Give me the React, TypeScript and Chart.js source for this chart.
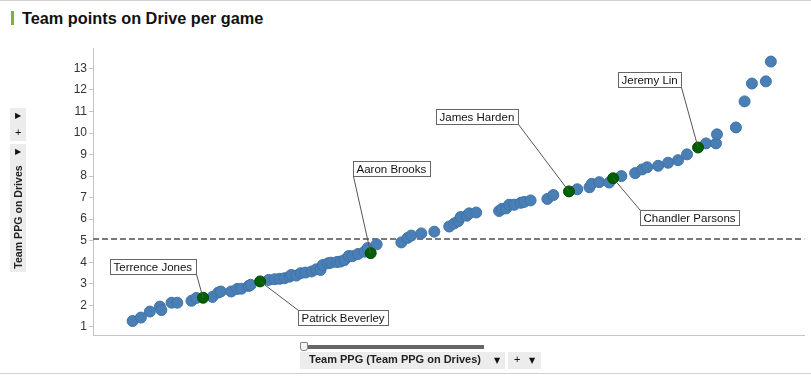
import React, { useEffect, useRef } from "react";
import { Chart, registerables } from "chart.js";

Chart.register(...registerables);

// ---- Data ----
const titleText = "Team points on Drive per game";
const yAxisTitle = "Team PPG on Drives";
const xAxisTitle = "Team PPG (Team PPG on Drives)";
const yTicks = [1, 2, 3, 4, 5, 6, 7, 8, 9, 10, 11, 12, 13];
const referenceLine = [5.08];

const blueX = [5.57, 6.73, 7.99, 9.4, 9.61, 11.04, 11.85, 13.84, 14.52, 16.79, 17.6, 17.95, 19.42, 20.27, 20.86, 21.88, 22.16, 24.68, 25.53, 26.23, 26.93, 27.63, 27.87, 28.57, 29.17, 29.87, 30.72, 31.37, 31.98, 32.3, 33.03, 33.45, 34.29, 34.78, 35.34, 35.95, 36.47, 37.24, 38.15, 38.62, 39.87, 43.34, 44.22, 44.74, 46.14, 47.97, 50.07, 50.77, 51.33, 51.68, 52.52, 52.88, 53.86, 57.08, 57.5, 58.06, 58.49, 59.19, 60.13, 60.59, 61.5, 63.86, 64.7, 68.06, 69.78, 70.08, 71.15, 72.55, 74.26, 76.2, 77.18, 77.88, 79.43, 80.83, 82.23, 83.49, 86.16, 87.56, 87.7, 90.36, 91.58, 92.61, 94.57, 95.27];
const blueY = [1.27, 1.43, 1.71, 1.94, 1.78, 2.12, 2.12, 2.21, 2.34, 2.39, 2.59, 2.64, 2.64, 2.76, 2.77, 2.9, 2.95, 3.18, 3.21, 3.23, 3.26, 3.33, 3.41, 3.38, 3.49, 3.52, 3.57, 3.67, 3.64, 3.87, 3.95, 3.98, 4.01, 4.03, 4.1, 4.29, 4.28, 4.38, 4.49, 4.66, 4.83, 4.92, 5.13, 5.24, 5.34, 5.42, 5.66, 5.8, 5.91, 6.1, 6.16, 6.27, 6.31, 6.38, 6.48, 6.5, 6.67, 6.67, 6.76, 6.8, 6.87, 6.94, 7.12, 7.39, 7.48, 7.64, 7.72, 7.7, 8.0, 8.14, 8.31, 8.41, 8.48, 8.62, 8.74, 9.01, 9.52, 9.52, 9.94, 10.26, 11.47, 12.3, 12.4, 13.32];

const highlightNames = ["Terrence Jones", "Patrick Beverley", "Aaron Brooks", "James Harden", "Chandler Parsons", "Jeremy Lin"];
const highlightX = [15.47, 23.49, 39.03, 66.9, 73.11, 85.04];
const highlightY = [2.35, 3.11, 4.42, 7.29, 7.9, 9.33];

// ---- Styles (label placement relative to point, in px) ----
const labelPlacement: { dx: number; dy: number; anchor: string }[] = [
  { dx: -93, dy: -38.5, anchor: "br" },
  { dx: 38, dy: 28.5, anchor: "tl" },
  { dx: -18, dy: -92, anchor: "bl" },
  { dx: -133, dy: -82, anchor: "br" },
  { dx: 27, dy: 32, anchor: "tl" },
  { dx: -80, dy: -75, anchor: "br" },
];

const labelPlugin = {
  id: "playerLabels",
  afterDatasetsDraw(chart: any) {
    const { ctx, scales } = chart;
    ctx.save();
    ctx.font = '11.5px "Liberation Sans", Arial, sans-serif';
    highlightNames.forEach((name, i) => {
      const px = scales.x.getPixelForValue(highlightX[i]);
      const py = scales.y.getPixelForValue(highlightY[i]);
      const p = labelPlacement[i];
      const w = Math.round(ctx.measureText(name).width + 7);
      const h = 15;
      const bx = Math.round(px + p.dx) + 0.5;
      const by = Math.round(py + p.dy) + 0.5;
      const ax = p.anchor.includes("r") ? bx + w : bx;
      const ay = p.anchor.includes("b") ? by + h : by;
      ctx.strokeStyle = "#555";
      ctx.lineWidth = 1;
      ctx.beginPath();
      ctx.moveTo(ax, ay);
      ctx.lineTo(px, py);
      ctx.stroke();
      ctx.fillStyle = "#fff";
      ctx.fillRect(bx, by, w, h);
      ctx.strokeStyle = "#666";
      ctx.strokeRect(bx, by, w, h);
      ctx.fillStyle = "#111";
      ctx.textBaseline = "middle";
      ctx.textAlign = "left";
      ctx.fillText(name, bx + 3, by + h / 2 + 0.5);
    });
    ctx.restore();
  },
};

const grayBox: React.CSSProperties = { position: "absolute", background: "#ececec" };
const tri: React.CSSProperties = { position: "absolute", fontSize: 8, color: "#111", fontFamily: "DejaVu Sans, sans-serif", lineHeight: "8px" };

export default function App() {
  const canvasRef = useRef<HTMLCanvasElement | null>(null);

  useEffect(() => {
    document.body.style.margin = "0";
    const canvas = canvasRef.current;
    if (!canvas) return;
    const chart = new Chart(canvas, {
      type: "scatter",
      data: {
        datasets: [
          {
            type: "line",
            data: [
              { x: 0, y: referenceLine[0] },
              { x: 100, y: referenceLine[0] },
            ],
            borderColor: "#7a7a7a",
            borderWidth: 2,
            borderDash: [6, 3],
            pointRadius: 0,
            order: 3,
          } as any,
          {
            data: blueX.map((x, i) => ({ x, y: blueY[i] })),
            backgroundColor: "#4a7fb5",
            borderColor: "#3f73a8",
            borderWidth: 1,
            pointRadius: 5.5,
            order: 2,
          },
          {
            data: highlightX.map((x, i) => ({ x, y: highlightY[i] })),
            backgroundColor: "#006000",
            borderColor: "#004d00",
            borderWidth: 1,
            pointRadius: 5.5,
            order: 1,
          },
        ],
      },
      options: {
        animation: false,
        responsive: false,
        maintainAspectRatio: false,
        layout: { padding: { left: 0, right: 5, top: 48, bottom: 41 } },
        plugins: { legend: { display: false }, tooltip: { enabled: false } },
        scales: {
          x: {
            type: "linear",
            min: 0,
            max: 100,
            grid: { display: false },
            border: { display: true, color: "#c4c4c4" },
            ticks: { display: false },
            afterFit: (s: any) => {
              s.height = 0;
            },
          },
          y: {
            type: "linear",
            min: 0.62,
            max: 13.95,
            afterBuildTicks: (s: any) => {
              s.ticks = yTicks.map((v) => ({ value: v }));
            },
            afterFit: (s: any) => {
              s.width = 93;
            },
            grid: { display: true, drawOnChartArea: false, drawTicks: true, tickLength: 4, color: "#c4c4c4" },
            border: { display: true, color: "#c4c4c4" },
            ticks: {
              padding: 2,
              color: "#333",
              font: { family: '"Liberation Sans", Arial, sans-serif', size: 12 },
            },
          },
        },
      },
      plugins: [labelPlugin],
    });
    return () => chart.destroy();
  }, []);

  return (
    <div style={{ position: "relative", width: 811, height: 376, overflow: "hidden", background: "#fff", fontFamily: '"Liberation Sans", Arial, sans-serif' }}>
      <div style={{ position: "absolute", left: 0, top: 0, width: 811, height: 1, background: "#d0d0d0" }} />
      <div style={{ position: "absolute", left: 0, top: 373, width: 811, height: 1, background: "#d0d0d0" }} />
      <div style={{ position: "absolute", left: 11, top: 11, width: 3, height: 14, background: "#80b03a" }} />
      <div style={{ position: "absolute", left: 22, top: 8, fontSize: 16.3, fontWeight: "bold", color: "#111", whiteSpace: "nowrap", lineHeight: "20px" }}>{titleText}</div>
      <canvas ref={canvasRef} width={811} height={376} style={{ position: "absolute", left: 0, top: 0, width: 811, height: 376 }} />
      {/* left axis controls */}
      <div style={{ ...grayBox, left: 10, top: 108, width: 16, height: 33 }} />
      <div style={{ ...tri, left: 15, top: 112 }}>▶</div>
      <div style={{ position: "absolute", left: 15, top: 126, fontSize: 11, color: "#111" }}>+</div>
      <div style={{ ...grayBox, left: 10, top: 144, width: 16, height: 128 }} />
      <div style={{ ...tri, left: 15, top: 148 }}>▶</div>
      <div
        style={{
          position: "absolute",
          left: 18,
          top: 217,
          transform: "translate(-50%, -50%) rotate(-90deg)",
          fontSize: 10.6,
          fontWeight: "bold",
          color: "#222",
          whiteSpace: "nowrap",
        }}
      >
        {yAxisTitle}
      </div>
      {/* bottom axis controls */}
      <div style={{ position: "absolute", left: 303, top: 345, width: 181, height: 4, background: "#666" }} />
      <div style={{ position: "absolute", left: 300, top: 342, width: 6, height: 7, background: "#f4f4f4", border: "1px solid #888", borderRadius: "1px 1px 3px 3px" }} />
      <div style={{ ...grayBox, left: 300, top: 352, width: 205, height: 17 }} />
      <div style={{ position: "absolute", left: 309, top: 353, fontSize: 11, fontWeight: "bold", color: "#222", whiteSpace: "nowrap" }}>{xAxisTitle}</div>
      <div style={{ ...tri, left: 494, top: 357 }}>▼</div>
      <div style={{ ...grayBox, left: 508, top: 352, width: 33, height: 17 }} />
      <div style={{ position: "absolute", left: 514, top: 353, fontSize: 11, color: "#111" }}>+</div>
      <div style={{ ...tri, left: 529, top: 357 }}>▼</div>
    </div>
  );
}
